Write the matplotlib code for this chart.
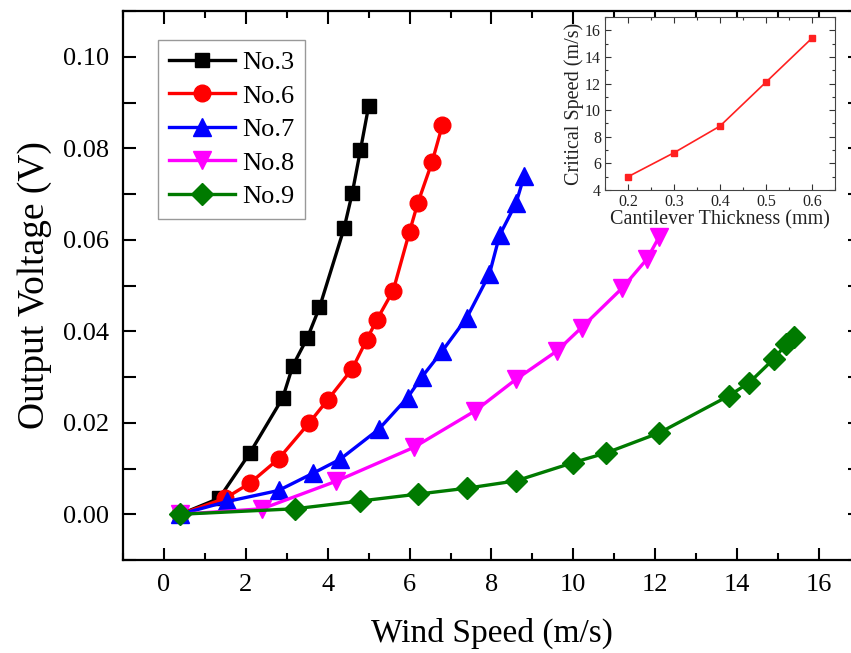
import matplotlib
matplotlib.use("Agg")
import matplotlib.pyplot as plt
from matplotlib.ticker import MultipleLocator, FormatStrFormatter

plt.rcParams['font.family'] = ['Liberation Serif', 'DejaVu Serif']

# ---- data ----
no3_x = [0.4, 1.35, 2.1, 2.9, 3.15, 3.5, 3.8, 4.4, 4.6, 4.8, 5.0]
no3_y = [0.0, 0.0035, 0.0134, 0.0254, 0.0325, 0.0385, 0.0452, 0.0625, 0.0702, 0.0796, 0.0892]

no6_x = [0.4, 1.5, 2.1, 2.8, 3.55, 4.0, 4.6, 4.95, 5.2, 5.6, 6.0, 6.2, 6.55, 6.8]
no6_y = [0.0, 0.0035, 0.0068, 0.0121, 0.020, 0.025, 0.0318, 0.0381, 0.0425, 0.0489, 0.0618, 0.068, 0.077, 0.085]

no7_x = [0.4, 1.55, 2.8, 3.65, 4.3, 5.25, 5.95, 6.3, 6.8, 7.4, 7.95, 8.2, 8.6, 8.8]
no7_y = [0.0, 0.0028, 0.0052, 0.009, 0.012, 0.0186, 0.0255, 0.030, 0.0357, 0.043, 0.0525, 0.061, 0.068, 0.074]

no8_x = [0.4, 2.4, 4.2, 6.1, 7.6, 8.6, 9.6, 10.2, 11.2, 11.8, 12.1]
no8_y = [0.0, 0.0012, 0.0072, 0.0146, 0.0226, 0.0295, 0.0357, 0.0408, 0.0495, 0.0558, 0.0607]

no9_x = [0.4, 3.2, 4.8, 6.2, 7.4, 8.6, 10.0, 10.8, 12.1, 13.8, 14.3, 14.9, 15.2, 15.4]
no9_y = [0.0, 0.0012, 0.0029, 0.0044, 0.0057, 0.0073, 0.0113, 0.0134, 0.0178, 0.0259, 0.0288, 0.034, 0.0372, 0.0387]

thickness = [0.2, 0.3, 0.4, 0.5, 0.6]
critical_speed = [5.0, 6.8, 8.8, 12.1, 15.4]

labels = ["No.3", "No.6", "No.7", "No.8", "No.9"]
colors = ["#000000", "#FF0000", "#0000FF", "#FF00FF", "#007A00"]
markers = ["s", "o", "^", "v", "D"]
msizes = [10.5, 12, 12.5, 12.5, 11]

series = [(no3_x, no3_y), (no6_x, no6_y), (no7_x, no7_y), (no8_x, no8_y), (no9_x, no9_y)]

fig = plt.figure(figsize=(8.51, 6.53), dpi=100)
ax = fig.add_axes([0.1445, 0.1424, 0.866, 0.8407])

for (x, y), lab, c, m, ms in zip(series, labels, colors, markers, msizes):
    ax.plot(x, y, color=c, marker=m, markersize=ms, linewidth=2.4, label=lab,
            markeredgecolor=c)

ax.set_xlim(-1, 17)
ax.set_ylim(-0.01, 0.11)
ax.xaxis.set_major_locator(MultipleLocator(2))
ax.xaxis.set_minor_locator(MultipleLocator(1))
ax.yaxis.set_major_locator(MultipleLocator(0.02))
ax.yaxis.set_minor_locator(MultipleLocator(0.01))
ax.yaxis.set_major_formatter(FormatStrFormatter('%.2f'))
ax.tick_params(which='both', direction='in', top=True, right=True, width=1.5)
ax.tick_params(which='major', length=9, labelsize=19, pad=10)
ax.tick_params(axis='x', which='minor', length=5)
ax.tick_params(axis='y', which='minor', length=9)
for s in ax.spines.values():
    s.set_linewidth(1.6)
ax.set_xlabel("Wind Speed (m/s)", fontsize=24, labelpad=16)
ax.set_ylabel("Output Voltage (V)", fontsize=27, labelpad=8)

leg = ax.legend(loc='upper left', bbox_to_anchor=(0.1857, 0.9387),
                bbox_transform=fig.transFigure, fontsize=19, frameon=True,
                fancybox=False, edgecolor='#808080', handlelength=2.5,
                labelspacing=0.38, borderaxespad=0, borderpad=0.4,
                handletextpad=0.3)
leg.get_frame().set_linewidth(1.0)

# ---- inset ----
ins = fig.add_axes([0.711, 0.709, 0.270, 0.265])
ins.plot(thickness, critical_speed, color='#FF2020', marker='s', markersize=4.5,
         linewidth=1.2)
ins.set_xlim(0.15, 0.65)
ins.set_ylim(4, 17)
ins.xaxis.set_major_locator(MultipleLocator(0.1))
ins.xaxis.set_minor_locator(MultipleLocator(0.05))
ins.yaxis.set_major_locator(MultipleLocator(2))
ins.yaxis.set_minor_locator(MultipleLocator(1))
ins.xaxis.set_major_formatter(FormatStrFormatter('%.1f'))
ins.tick_params(which='both', direction='in', top=True, right=True, width=0.8,
                colors='#333333', labelcolor='#222222')
ins.tick_params(which='major', length=4, labelsize=11.5, pad=3)
ins.tick_params(which='minor', length=2)
for s in ins.spines.values():
    s.set_linewidth(0.8)
    s.set_color('#444444')
ins.set_xlabel("Cantilever Thickness (mm)", fontsize=14.5, labelpad=0, color='#222222')
ins.set_ylabel("Critical Speed (m/s)", fontsize=14.5, labelpad=1, color='#222222')

fig.savefig("out.png", dpi=100)
